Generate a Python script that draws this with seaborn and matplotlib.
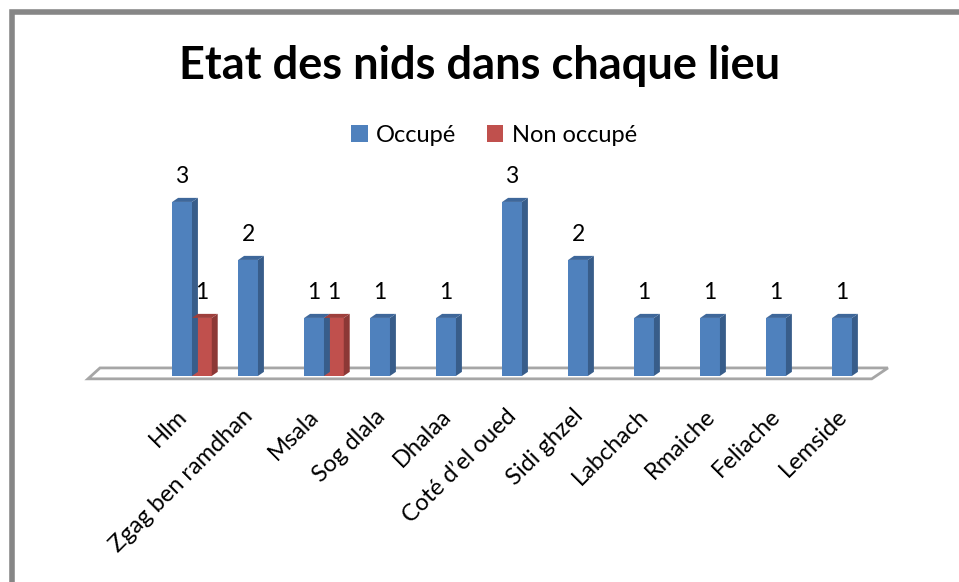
import pandas as pd
import numpy as np
import seaborn as sns
import matplotlib.pyplot as plt
import matplotlib.transforms as mtrans
from matplotlib.patches import Polygon, Rectangle

lieux = ["Hlm", "Zgag ben ramdhan", "Msala", "Sog dlala", "Dhalaa", "Coté d\u2019el oued",
         "Sidi ghzel", "Labchach", "Rmaiche", "Feliache", "Lemside"]
occupe = [3, 2, 1, 1, 1, 3, 2, 1, 1, 1, 1]
non_occupe = [1, np.nan, 1, np.nan, np.nan, np.nan, np.nan, np.nan, np.nan, np.nan, np.nan]
statuts = ["Occupé", "Non occupé"]

df = pd.DataFrame({
    'lieu': lieux * 2,
    'statut': [statuts[0]] * len(lieux) + [statuts[1]] * len(lieux),
    'nids': occupe + non_occupe,
})

sns.set_style('white')
plt.rcParams['font.family'] = ['Lato', 'DejaVu Sans']
plt.rcParams['text.color'] = 'black'
plt.rcParams['xtick.color'] = 'black'

front = {"Occupé": "#4F81BD", "Non occupé": "#C0504D"}
side = {"Occupé": "#385D8A", "Non occupé": "#8C3836"}
top = {"Occupé": "#3E679A", "Non occupé": "#9E3F3C"}

fig = plt.figure(figsize=(9.59, 5.82), dpi=100)
ax = fig.add_axes([0.0834, 0.33, 0.855, 0.3608])

sns.barplot(data=df, x='lieu', y='nids', hue='statut', hue_order=statuts,
            palette=front, saturation=1, width=0.6, ax=ax, edgecolor='none', zorder=3)

ax.set_xlim(-1.697, 10.727)
ax.set_ylim(-0.2414, 3.379)

# plancher 3D
floor = Polygon([(-1.576, -0.05), (-1.394, 0.138), (10.545, 0.138), (10.30, -0.05)],
                closed=True, facecolor='white', edgecolor='#A6A6A6', lw=2, zorder=1)
ax.add_patch(floor)

dx, dy = 0.09, 0.07
for cont, st in zip(ax.containers, statuts):
    for rect in cont:
        h = rect.get_height()
        if not np.isfinite(h) or h == 0:
            continue
        x0, w = rect.get_x(), rect.get_width()
        ax.add_patch(Polygon([(x0 + w, 0), (x0 + w + dx, dy), (x0 + w + dx, h + dy), (x0 + w, h)],
                             closed=True, facecolor=side[st], edgecolor='none', zorder=3))
        ax.add_patch(Polygon([(x0, h), (x0 + dx, h + dy), (x0 + w + dx, h + dy), (x0 + w, h)],
                             closed=True, facecolor=top[st], edgecolor='none', zorder=3))
        ax.text(x0 + w / 2, h + dy + 0.18, f"{int(h)}", ha='center', va='bottom',
                fontsize=16.5, color='black')

sns.despine(ax=ax, left=True, bottom=True)
ax.set_xlabel('')
ax.set_ylabel('')
ax.set_yticks([])
ax.tick_params(axis='x', length=0, pad=4, labelsize=17)
ax.set_xticks(range(len(lieux)))
ax.set_xticklabels(lieux, rotation=45, ha='right', rotation_mode='anchor')
shift = mtrans.ScaledTranslation(-0.16, -0.10, fig.dpi_scale_trans)
for lab in ax.get_xticklabels():
    lab.set_transform(lab.get_transform() + shift)

handles, labels = ax.get_legend_handles_labels()
ax.legend(handles, labels, loc='center', bbox_to_anchor=(494 / 959, 1 - 135 / 582),
          bbox_transform=fig.transFigure, ncol=2, frameon=False, fontsize=17,
          handlelength=0.7, handleheight=0.7, handletextpad=0.35, columnspacing=1.3)

fig.text(0.5, 1 - 66 / 582, "Etat des nids dans chaque lieu", ha='center', va='center',
         fontsize=32.5, fontweight='bold', color='black')

fig.patches.append(Rectangle((12 / 959, -0.1), 1.2, 1 - 12 / 582 + 0.1, transform=fig.transFigure,
                             fill=False, edgecolor='#868686', lw=4))

fig.savefig('out.png', dpi=100)
